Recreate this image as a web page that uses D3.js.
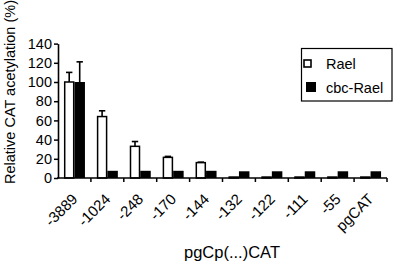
<!DOCTYPE html>
<html>
<head>
<meta charset="utf-8">
<script src="https://cdn.jsdelivr.net/npm/d3@7"></script>
<style>
  body { margin: 0; background: #fff; }
  svg { display: block; font-family: "Liberation Sans", Arial, sans-serif; }
</style>
</head>
<body>
<div id="cont"></div>
<script>
// Data
var constructs = ["-3889", "-1024", "-248", "-170", "-144", "-132", "-122", "-111", "-55", "pgCAT"];
var rael      = [100, 64, 33, 21.5, 16, 1, 1, 1, 1, 1];
var raelErr   = [10, 6, 5, 1, 0.5, 0, 0, 0, 0, 0];
var cbcRael   = [100, 7.5, 7.5, 7.5, 7.5, 7, 7, 7, 7, 7];
var cbcErr    = [21, 0, 0, 0, 0, 0, 0, 0, 0, 0];
var yTicks    = [0, 20, 40, 60, 80, 100, 120, 140];
var seriesNames = ["Rael", "cbc-Rael"];

var W = 400, H = 268;
var x0 = 58, x1 = 387, yBase = 178, yTop = 43.6;

var svg = d3.select("#cont").append("svg")
    .attr("width", W)
    .attr("height", H);

var x = d3.scaleBand()
    .domain(constructs)
    .range([x0, x1])
    .paddingInner(0)
    .paddingOuter(0);

var y = d3.scaleLinear()
    .domain([0, 140])
    .range([yBase, yTop]);

var barW = 10.5;

var rows = constructs.map(function(c, i) {
    return {c: c, a: rael[i], ae: raelErr[i], b: cbcRael[i], be: cbcErr[i]};
});

// error bars (drawn first so bar covers the stem base)
var err = svg.append("g").attr("stroke", "#000").attr("stroke-width", 1.6);
rows.forEach(function(d) {
    var cx = x(d.c) + x.bandwidth() / 2;
    [[cx - barW / 2, d.a, d.ae], [cx + barW / 2, d.b, d.be]].forEach(function(e) {
        if (e[2] <= 0) return;
        err.append("line")
            .attr("x1", e[0]).attr("x2", e[0])
            .attr("y1", y(e[1])).attr("y2", y(e[1] + e[2]));
        err.append("line")
            .attr("x1", e[0] - 3.2).attr("x2", e[0] + 3.2)
            .attr("y1", y(e[1] + e[2])).attr("y2", y(e[1] + e[2]));
    });
});

// Rael bars (open)
svg.append("g").selectAll("rect")
    .data(rows).enter().append("rect")
    .attr("x", function(d) { return x(d.c) + x.bandwidth() / 2 - barW + 0.75; })
    .attr("y", function(d) { return y(d.a); })
    .attr("width", barW - 1.5)
    .attr("height", function(d) { return yBase - y(d.a); })
    .attr("fill", "#fff")
    .attr("stroke", "#000")
    .attr("stroke-width", 1.5);

// cbc-Rael bars (solid)
svg.append("g").selectAll("rect")
    .data(rows).enter().append("rect")
    .attr("x", function(d) { return x(d.c) + x.bandwidth() / 2; })
    .attr("y", function(d) { return y(d.b); })
    .attr("width", barW)
    .attr("height", function(d) { return yBase - y(d.b); })
    .attr("fill", "#000");

// y axis
var yAxis = svg.append("g")
    .attr("transform", "translate(" + x0 + ",0)")
    .call(d3.axisLeft(y).tickValues(yTicks).tickSize(4).tickPadding(2).tickSizeOuter(0));
yAxis.select(".domain").attr("stroke-width", 1.6);
yAxis.selectAll(".tick line").attr("stroke-width", 1.5);
yAxis.selectAll("text").attr("font-size", 14.5).attr("fill", "#000")
    .attr("font-family", "Liberation Sans, Arial, sans-serif");

// x axis: ticks on band edges
var xAxis = svg.append("g")
    .attr("transform", "translate(0," + yBase + ")");
xAxis.append("line")
    .attr("x1", x0 - 1).attr("x2", x1)
    .attr("stroke", "#000").attr("stroke-width", 1.6);
xAxis.selectAll(".edge")
    .data(constructs).enter().append("line")
    .attr("class", "edge")
    .attr("x1", function(d) { return x(d) + x.bandwidth(); })
    .attr("x2", function(d) { return x(d) + x.bandwidth(); })
    .attr("y1", 0).attr("y2", 4)
    .attr("stroke", "#000").attr("stroke-width", 1.5);
xAxis.selectAll(".lab")
    .data(constructs).enter().append("text")
    .attr("class", "lab")
    .attr("text-anchor", "end")
    .attr("font-size", 15)
    .attr("transform", function(d) {
        return "translate(" + (x(d) + x.bandwidth() / 2 + 4) + ",22) rotate(-45)";
    })
    .text(function(d) { return d; });

// axis titles
svg.append("text")
    .attr("transform", "translate(15," + 92 + ") rotate(-90)")
    .attr("text-anchor", "middle")
    .attr("font-size", 14.5)
    .text("Relative CAT acetylation (%)");

svg.append("text")
    .attr("x", 232)
    .attr("y", 258)
    .attr("text-anchor", "middle")
    .attr("font-size", 16.5)
    .text("pgCp(...)CAT");

// legend
var leg = svg.append("g");
leg.append("rect")
    .attr("x", 301.5).attr("y", 48.5)
    .attr("width", 90.5).attr("height", 52.5)
    .attr("fill", "#fff").attr("stroke", "#000").attr("stroke-width", 1.2);
seriesNames.forEach(function(n, i) {
    leg.append("rect")
        .attr("x", i === 0 ? 304 : 306).attr("y", i === 0 ? 60 : 82)
        .attr("width", i === 0 ? 7 : 10).attr("height", i === 0 ? 7 : 10)
        .attr("fill", i === 0 ? "#fff" : "#000")
        .attr("stroke", i === 0 ? "#000" : "none").attr("stroke-width", 1.6);
    leg.append("text")
        .attr("x", 326).attr("y", 68.5 + i * 24.3)
        .attr("font-size", 14.5)
        .text(n);
});
</script>
</body>
</html>
